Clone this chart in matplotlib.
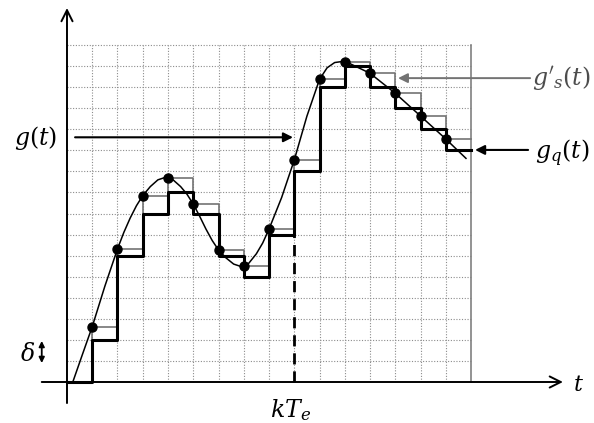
import matplotlib
matplotlib.use("Agg")
import matplotlib.pyplot as plt

plt.rcParams["mathtext.fontset"] = "dejavuserif"

# ── data (t in units of Te, amplitude in units of delta) ──
k_samples = [1, 2, 3, 4, 5, 6, 7, 8, 9, 10, 11, 12, 13, 14, 15]
g_samples = [2.63, 6.32, 8.85, 9.67, 8.45, 6.27, 5.52, 7.26, 10.54,
             14.37, 15.2, 14.66, 13.71, 12.63, 11.54]
g_quant = [2, 6, 8, 9, 8, 6, 5, 7, 10, 14, 15, 14, 13, 12, 11]

curve_t = [0.23, 0.6, 1.0, 1.5, 2.0, 2.25, 2.5, 2.75, 3.0, 3.3, 3.6, 3.9, 4.2, 4.5,
           4.75, 5.0, 5.25, 5.5, 5.75, 6.0, 6.3, 6.6, 6.9, 7.2, 7.5, 7.75, 8.0,
           8.5, 9.0, 9.5, 10.0, 10.3, 10.6, 10.9, 11.2, 11.5, 12.0, 13.0, 14.0,
           15.0, 15.8]
curve_g = [0.0, 1.27, 2.63, 4.55, 6.32, 7.1, 7.78, 8.37, 8.85, 9.28, 9.6, 9.72,
           9.6, 9.28, 8.92, 8.45, 7.88, 7.27, 6.72, 6.27, 5.89, 5.6, 5.48, 5.64,
           6.09, 6.6, 7.26, 8.76, 10.54, 12.62, 14.37, 14.92, 15.17, 15.22,
           15.12, 14.95, 14.66, 13.71, 12.63, 11.54, 10.62]

n_cells = 16
k_sample_marked = 9

# ── figure ──
fig = plt.figure(figsize=(5.94, 4.23), dpi=100)
ax = fig.add_axes([0, 0, 1, 1])
ax.set_xlim(-2.653, 20.87)
ax.set_ylim(-1.947, 18.14)
ax.axis("off")

# grid
grid_kw = dict(color="0.55", lw=0.8, linestyle=(0, (1, 1.5)), zorder=1)
for i in range(1, n_cells + 1):
    ax.plot([0, n_cells], [i, i], **grid_kw)
for i in range(1, n_cells):
    ax.plot([i, i], [0, n_cells], **grid_kw)
ax.plot([n_cells, n_cells], [0, n_cells], color="0.5", lw=1.2, zorder=1)

# axes with arrows
ax.annotate("", xy=(19.64, 0), xytext=(-1.0, 0),
            arrowprops=dict(arrowstyle="->", lw=1.4, color="black",
                            mutation_scale=20, shrinkA=0, shrinkB=0), zorder=3)
ax.annotate("", xy=(0, 17.76), xytext=(0, -1.0),
            arrowprops=dict(arrowstyle="->", lw=1.4, color="black",
                            mutation_scale=20, shrinkA=0, shrinkB=0), zorder=3)

# sampled-and-held signal (gray) and quantized signal (thick black)
step_x = [0] + k_samples + [n_cells]
ax.step(step_x, [0] + g_samples + [g_samples[-1]], where="post",
        color="0.45", lw=1.2, zorder=2)
ax.step(step_x, [0] + g_quant + [g_quant[-1]], where="post",
        color="black", lw=2.2, zorder=3)

# dashed marker at k Te
ax.plot([k_sample_marked, k_sample_marked], [0, g_quant[k_sample_marked - 2]],
        color="black", lw=2.0, linestyle=(0, (4, 2.5)), zorder=3)

# continuous signal and samples
ax.plot(curve_t, curve_g, color="black", lw=1.1, zorder=4)
ax.plot(k_samples, g_samples, "o", color="black", ms=6.5, zorder=5)

# label arrows
ax.annotate("", xy=(8.95, 11.62), xytext=(0.32, 11.62),
            arrowprops=dict(arrowstyle="-|>", lw=1.5, color="black",
                            mutation_scale=14, shrinkA=0, shrinkB=0), zorder=4)
ax.annotate("", xy=(13.11, 14.43), xytext=(18.34, 14.43),
            arrowprops=dict(arrowstyle="-|>", lw=1.4, color="0.45",
                            mutation_scale=14, shrinkA=0, shrinkB=0), zorder=4)
ax.annotate("", xy=(16.16, 11.02), xytext=(18.26, 11.02),
            arrowprops=dict(arrowstyle="-|>", lw=1.5, color="black",
                            mutation_scale=14, shrinkA=0, shrinkB=0), zorder=4)
ax.annotate("", xy=(-1.0, 1.95), xytext=(-1.0, 0.9),
            arrowprops=dict(arrowstyle="<|-|>", lw=1.3, color="black",
                            mutation_scale=8, shrinkA=0, shrinkB=0), zorder=4)

# texts
fs = 17
ax.text(-1.23, 11.59, r"$g(t)$", fontsize=fs, ha="center", va="center")
ax.text(19.56, 14.43, r"${g'}_s(t)$", fontsize=fs, ha="center", va="center",
        color="0.3")
ax.text(19.6, 10.87, r"$g_q(t)$", fontsize=fs, ha="center", va="center")
ax.text(20.24, -0.14, r"$t$", fontsize=16, ha="center", va="center")
ax.text(8.87, -1.33, r"$kT_e$", fontsize=17, ha="center", va="center")
ax.text(-1.58, 1.33, r"$\delta$", fontsize=17, ha="center", va="center")

fig.savefig("out.png", dpi=100)
